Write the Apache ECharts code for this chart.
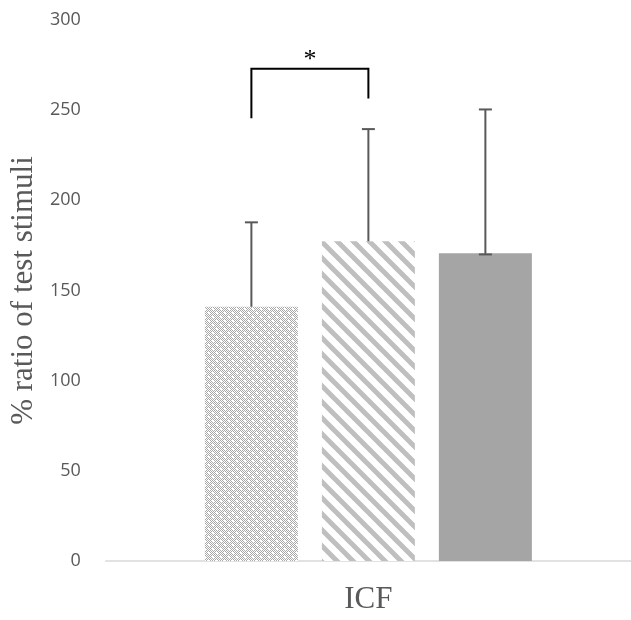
<!DOCTYPE html>
<html>
<head>
<meta charset="utf-8">
<script src="https://cdn.jsdelivr.net/npm/echarts@6/dist/echarts.min.js"></script>
<style>
  html, body { margin: 0; padding: 0; background: #fff; }
  #chart { width: 631px; height: 620px; }
</style>
</head>
<body>
<div id="chart"></div>
<script>
// data
var categories = ["ICF"];
var groupNames = ["Group 1", "Group 2", "Group 3"];
var means = [141, 177.3, 170.7];
var errHigh = [187.8, 239.5, 250.4];
var errLow = [null, null, 170];
var yTicks = { min: 0, max: 300, interval: 50 };
// significance bracket between group 1 and group 2
var sigPair = [0, 1];
var sigTop = 273;
var sigLegs = [245.5, 256.5];
var sigStar = 278;
var sigText = "*";

var barWidth = 93;
var barGapPx = 24;

// fill patterns
function checkerPattern() {
  var c = document.createElement("canvas");
  c.width = 8;
  c.height = 8;
  var ctx = c.getContext("2d");
  ctx.fillStyle = "#fff";
  ctx.fillRect(0, 0, 8, 8);
  ctx.fillStyle = "#a9a9a9";
  for (var x = 0; x < 8; x++) {
    for (var y = 0; y < 8; y++) {
      if ((x + y) % 2 === 0) ctx.fillRect(x, y, 1, 1);
    }
  }
  // little white spots
  ctx.fillStyle = "#fff";
  ctx.fillRect(0, 0, 2, 2);
  ctx.fillRect(4, 4, 2, 2);
  return c;
}
function stripePattern() {
  var c = document.createElement("canvas");
  c.width = 16;
  c.height = 16;
  var ctx = c.getContext("2d");
  ctx.fillStyle = "#fff";
  ctx.fillRect(0, 0, 16, 16);
  ctx.strokeStyle = "#bfbfbf";
  ctx.lineWidth = 5;
  [-16, 0, 16].forEach(function (k) {
    ctx.beginPath();
    ctx.moveTo(-2, k - 2);
    ctx.lineTo(18, 18 + k);
    ctx.stroke();
  });
  return c;
}
var fills = [
  { image: checkerPattern(), repeat: "repeat" },
  { image: stripePattern(), repeat: "repeat" },
  "#a5a5a5",
];

function offsetOf(i) {
  return (i - (groupNames.length - 1) / 2) * (barWidth + barGapPx);
}

var barSeries = groupNames.map(function (name, i) {
  return {
    name: name,
    type: "bar",
    barWidth: barWidth,
    barGap: (barGapPx / barWidth) * 100 + "%",
    itemStyle: { color: fills[i] },
    data: [means[i]],
    z: 2,
  };
});

var errData = groupNames.map(function (n, i) {
  return [i, means[i], errHigh[i], errLow[i] == null ? -1 : errLow[i]];
});

var errSeries = {
  type: "custom",
  z: 5,
  data: errData,
  renderItem: function (params, api) {
    var i = api.value(0);
    var base = api.coord([0, api.value(1)]);
    var top = api.coord([0, api.value(2)]);
    var x = base[0] + offsetOf(i);
    var cap = 6.5;
    var style = { stroke: "#595959", lineWidth: 2 };
    var kids = [
      { type: "line", shape: { x1: x, y1: base[1], x2: x, y2: top[1] }, style: style },
      { type: "line", shape: { x1: x - cap, y1: top[1], x2: x + cap, y2: top[1] }, style: style },
    ];
    if (api.value(3) >= 0) {
      var low = api.coord([0, api.value(3)]);
      kids.push({ type: "line", shape: { x1: x, y1: base[1], x2: x, y2: low[1] }, style: style });
      kids.push({ type: "line", shape: { x1: x - cap, y1: low[1], x2: x + cap, y2: low[1] }, style: style });
    }
    return { type: "group", children: kids };
  },
};

var sigSeries = {
  type: "custom",
  z: 6,
  clip: false,
  data: [[sigPair[0], sigPair[1], sigTop, sigLegs[0], sigLegs[1], sigStar]],
  renderItem: function (params, api) {
    var xa = api.coord([0, 0])[0] + offsetOf(api.value(0));
    var xb = api.coord([0, 0])[0] + offsetOf(api.value(1));
    var yTop = api.coord([0, api.value(2)])[1];
    var yA = api.coord([0, api.value(3)])[1];
    var yB = api.coord([0, api.value(4)])[1];
    var yS = api.coord([0, api.value(5)])[1];
    return {
      type: "group",
      children: [
        {
          type: "polyline",
          shape: { points: [[xa, yA], [xa, yTop], [xb, yTop], [xb, yB]] },
          style: { stroke: "#000", lineWidth: 2, fill: null },
        },
        {
          type: "text",
          style: {
            text: sigText,
            x: (xa + xb) / 2,
            y: yS,
            align: "center",
            verticalAlign: "middle",
            font: "26px 'Liberation Serif'",
            fill: "#000",
          },
        },
      ],
    };
  },
};

var myChart = echarts.init(document.getElementById("chart"));
var option = {
  animation: false,
  grid: { left: 105, right: -4, top: 20, bottom: 55 },
  xAxis: {
    type: "category",
    data: categories,
    axisTick: { show: false },
    axisLabel: { show: false },
    axisLine: { lineStyle: { color: "#d9d9d9", width: 1.5 } },
    name: categories[0],
    nameLocation: "middle",
    nameGap: 23,
    nameTextStyle: { fontFamily: "Liberation Serif", fontSize: 31, color: "#595959" },
  },
  yAxis: {
    type: "value",
    min: yTicks.min,
    max: yTicks.max,
    interval: yTicks.interval,
    splitLine: { show: false },
    axisLine: { show: false },
    axisTick: { show: false },
    axisLabel: { fontFamily: "Open Sans", fontSize: 18, color: "#595959", margin: 25 },
    name: "% ratio of test stimuli",
    nameLocation: "middle",
    nameGap: 53,
    nameTextStyle: { fontFamily: "Liberation Serif", fontSize: 31, color: "#595959" },
  },
  series: barSeries.concat([errSeries, sigSeries]),
};
myChart.setOption(option);
</script>
</body>
</html>
